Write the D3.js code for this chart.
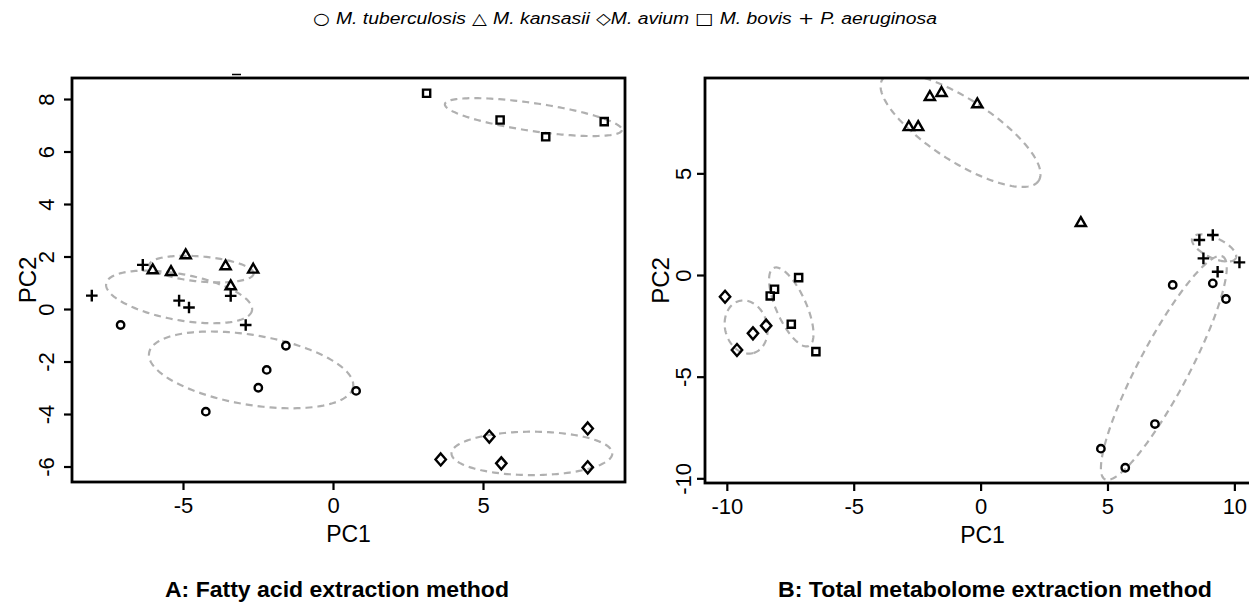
<!DOCTYPE html>
<html><head><meta charset="utf-8">
<script src="https://cdn.jsdelivr.net/npm/d3@7"></script>
<style>body{margin:0;background:#fff} svg{display:block}</style>
</head><body>
<svg id="chart" width="1249" height="612"></svg>
<script>
// ---------- DATA ----------
const species = ["M. tuberculosis", "M. kansasii", "M. avium", "M. bovis", "P. aeruginosa"];
const legendSymbols = ["\u25CB", "\u25B3", "\u25C7", "\u25A1", "+"];
const groupShapes = ["circle", "triangle", "diamond", "square", "plus"];

// Panel A: fatty acid extraction (PC1, PC2)
const A_tuberculosis = [[-7.08,-0.61],[-1.57,-1.40],[-2.21,-2.32],[-2.49,-3.00],[0.77,-3.12],[-4.24,-3.91]];
const A_kansasii     = [[-6.01,1.49],[-5.40,1.42],[-4.91,2.06],[-3.58,1.64],[-2.66,1.51],[-3.41,0.88]];
const A_avium        = [[3.59,-5.73],[5.21,-4.86],[5.61,-5.88],[8.49,-4.55],[8.49,-6.03]];
const A_bovis        = [[3.12,8.22],[5.57,7.20],[7.09,6.56],[9.04,7.14]];
const A_aeruginosa   = [[-8.04,0.51],[-6.34,1.68],[-5.13,0.32],[-4.80,0.06],[-3.41,0.50],[-2.91,-0.61]];

// Panel B: total metabolome extraction (PC1, PC2)
const B_tuberculosis = [[7.57,-0.49],[9.15,-0.41],[9.67,-1.18],[6.87,-7.33],[4.74,-8.54],[5.70,-9.48]];
const B_kansasii     = [[-2.83,7.29],[-2.46,7.29],[-2.00,8.77],[-1.54,8.97],[-0.13,8.41],[3.95,2.57]];
const B_avium        = [[-10.07,-1.07],[-9.60,-3.69],[-8.97,-2.87],[-8.45,-2.49]];
const B_bovis        = [[-8.29,-1.03],[-8.12,-0.70],[-7.17,-0.13],[-7.46,-2.42],[-6.49,-3.77]];
const B_aeruginosa   = [[8.62,1.72],[9.15,1.97],[8.78,0.82],[9.34,0.16],[10.20,0.62]];

// Group ellipses: centre (cx,cy) and two conjugate half-axis vectors u, v in data units
const A_ellipses = [
  {cx:-2.73, cy:-2.32, ux:3.40, uy:-0.65, vx:-0.193, vy:-1.31},
  {cx:-4.38, cy:1.52,  ux:1.733, uy:-0.175, vx:-0.037, vy:-0.476},
  {cx:6.63,  cy:-5.50, ux:2.68, uy:0, vx:0, vy:-0.827},
  {cx:6.68,  cy:7.31,  ux:2.95, uy:-0.495, vx:-0.067, vy:-0.526},
  {cx:-5.13, cy:0.46,  ux:2.43, uy:-0.514, vx:-0.14, vy:-0.861}
];
const B_ellipses = [
  {cx:7.22,  cy:-4.57, ux:2.32, uy:5.48, vx:0.873, vy:-0.573},
  {cx:-0.79, cy:7.13,  ux:3.08, uy:-2.49, vx:-0.667, vy:-1.28},
  {cx:-9.24, cy:-2.56, ux:0.276, uy:-1.28, vx:-0.80, vy:-0.27},
  {cx:-7.46, cy:-1.57, ux:0.69, uy:-1.92, vx:-0.539, vy:-0.30},
  {cx:9.20,  cy:1.33,  ux:0.857, uy:-0.50, vx:-0.166, vy:-0.446}
];

const A_xTicks = [-5, 0, 5];
const A_yTicks = [-6, -4, -2, 0, 2, 4, 6, 8];
const B_xTicks = [-10, -5, 0, 5, 10];
const B_yTicks = [-10, -5, 0, 5];

const A_xDomain = [-8.70, 9.733], A_yDomain = [-6.59, 8.80];
const B_xDomain = [-10.86, 11.01], B_yDomain = [-10.23, 9.69];

const titleA = "A: Fatty acid extraction method";
const titleB = "B: Total metabolome extraction method";
const xLabel = "PC1", yLabel = "PC2";

// ---------- DRAW ----------
const svg = d3.select("#chart");
const FONT = "'Liberation Sans', Arial, Helvetica, sans-serif";
const SYM = "'DejaVu Sans', sans-serif";

svg.append("rect").attr("width",1249).attr("height",612).attr("fill","#fff");

const shapePath = {
  triangle: "M0,-5.6L5.1,3.3L-5.1,3.3Z",
  diamond: "M0,-6L5.2,0L0,6L-5.2,0Z",
  square: "M-3.6,-3.6H3.6V3.6H-3.6Z",
  plus: "M-5.8,0H5.8M0,-5.8V5.8"
};

function drawPanel(cfg) {
  const g = svg.append("g");
  const x = d3.scaleLinear().domain(cfg.xDomain).range([cfg.left, cfg.right]);
  const y = d3.scaleLinear().domain(cfg.yDomain).range([cfg.bottom, cfg.top]);

  const clipId = "clip" + cfg.id;
  svg.append("clipPath").attr("id", clipId).append("rect")
    .attr("x", cfg.left).attr("y", cfg.top)
    .attr("width", cfg.right - cfg.left).attr("height", cfg.bottom - cfg.top);

  const eg = g.append("g").attr("clip-path", `url(#${clipId})`);
  cfg.ellipses.forEach(e => {
    const pts = d3.range(0, 361, 2).map(t => {
      const r = t * Math.PI / 180;
      return [x(e.cx + Math.cos(r) * e.ux + Math.sin(r) * e.vx),
              y(e.cy + Math.cos(r) * e.uy + Math.sin(r) * e.vy)];
    });
    eg.append("path").attr("d", d3.line()(pts) + "Z")
      .attr("fill", "none").attr("stroke", "#b0b0b0")
      .attr("stroke-width", 2.2).attr("stroke-dasharray", "7,5");
  });

  cfg.groups.forEach((pts, gi) => {
    const shape = groupShapes[gi];
    pts.forEach(p => {
      const px = x(p[0]), py = y(p[1]);
      if (shape === "circle") {
        g.append("circle").attr("cx", px).attr("cy", py).attr("r", 3.7)
          .attr("fill", "none").attr("stroke", "#000").attr("stroke-width", 2.4);
      } else {
        g.append("path").attr("d", shapePath[shape])
          .attr("transform", `translate(${px},${py})`)
          .attr("fill", "none").attr("stroke", "#000").attr("stroke-width", 2.4);
      }
    });
  });

  g.append("rect").attr("x", cfg.left).attr("y", cfg.top)
    .attr("width", cfg.right - cfg.left).attr("height", cfg.bottom - cfg.top)
    .attr("fill", "none").attr("stroke", "#000").attr("stroke-width", 2.8);

  const xa = g.append("g").attr("transform", `translate(0,${cfg.bottom})`)
    .call(d3.axisBottom(x).tickValues(cfg.xTicks).tickSize(8).tickSizeOuter(0).tickFormat(d => String(d)));
  xa.select(".domain").remove();
  xa.selectAll(".tick line").attr("stroke", "#000").attr("stroke-width", 2.2);
  xa.selectAll(".tick text").attr("y", 31).attr("dy", null)
    .attr("font-family", FONT).attr("font-size", 22).attr("fill", "#000");

  const ya = g.append("g").attr("transform", `translate(${cfg.left},0)`)
    .call(d3.axisLeft(y).tickValues(cfg.yTicks).tickSize(8).tickSizeOuter(0).tickFormat(d => String(d)));
  ya.select(".domain").remove();
  ya.selectAll(".tick line").attr("stroke", "#000").attr("stroke-width", 2.2);
  ya.selectAll(".tick text").attr("transform", "rotate(-90)")
    .attr("x", 0).attr("y", -cfg.yTickOff).attr("dy", null)
    .attr("text-anchor", "middle")
    .attr("font-family", FONT).attr("font-size", 22).attr("fill", "#000");

  g.append("text").attr("x", (cfg.left + cfg.right) / 2).attr("y", cfg.bottom + 60)
    .attr("text-anchor", "middle").attr("font-family", FONT).attr("font-size", 23)
    .text(xLabel);
  g.append("text")
    .attr("transform", `translate(${cfg.left - 36},${(cfg.top + cfg.bottom) / 2}) rotate(-90)`)
    .attr("text-anchor", "middle").attr("font-family", FONT).attr("font-size", 24)
    .text(yLabel);

  g.append("text").attr("x", cfg.titleX).attr("y", 597)
    .attr("text-anchor", "middle").attr("font-family", FONT).attr("font-weight", "bold")
    .attr("font-size", 22).attr("textLength", cfg.titleLen).attr("lengthAdjust", "spacingAndGlyphs")
    .text(cfg.title);
}

drawPanel({
  id: "A", left: 72, right: 625, top: 78, bottom: 482,
  xDomain: A_xDomain, yDomain: A_yDomain, xTicks: A_xTicks, yTicks: A_yTicks,
  groups: [A_tuberculosis, A_kansasii, A_avium, A_bovis, A_aeruginosa],
  ellipses: A_ellipses, yTickOff: 18,
  title: titleA, titleX: 337, titleLen: 344
});
drawPanel({
  id: "B", left: 705, right: 1260, top: 78, bottom: 483,
  xDomain: B_xDomain, yDomain: B_yDomain, xTicks: B_xTicks, yTicks: B_yTicks,
  groups: [B_tuberculosis, B_kansasii, B_avium, B_bovis, B_aeruginosa],
  ellipses: B_ellipses, yTickOff: 14,
  title: titleB, titleX: 995, titleLen: 434
});

// small stray mark above panel A frame (present in the original figure)
svg.append("line").attr("x1", 232).attr("x2", 241).attr("y1", 74.5).attr("y2", 74.5)
  .attr("stroke", "#000").attr("stroke-width", 1.5);

// legend
const leg = svg.append("text").attr("x", 625).attr("y", 24).attr("text-anchor", "middle")
  .attr("font-family", FONT).attr("font-size", 16)
  .attr("textLength", 624).attr("lengthAdjust", "spacingAndGlyphs");
species.forEach((s, i) => {
  leg.append("tspan").attr("font-family", SYM).attr("font-style", "normal")
    .text((i === 0 ? "" : " ") + legendSymbols[i] + (i === 2 ? "" : " "));
  leg.append("tspan").attr("font-style", "italic").text(s);
});
</script>
</body></html>
